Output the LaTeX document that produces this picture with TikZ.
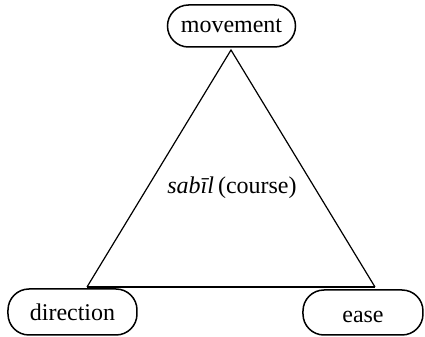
\documentclass[tikz,border=0pt]{standalone}
\usepackage{fontspec}
\setmainfont{Liberation Serif}
\begin{document}
\begin{tikzpicture}[x=0.5pt,y=-0.5pt,
  pill/.style={draw, line width=0.75pt, rounded corners=10.5pt, inner sep=0pt, font=\fontsize{12}{14}\selectfont},
  edge/.style={line width=0.6pt}]
\useasboundingbox (0,0) rectangle (425,337);
\node[pill, minimum width=64pt, minimum height=21pt] (movement) at (231.5,26) {movement};
\node[pill, minimum width=64.5pt, minimum height=23pt] (direction) at (72.5,312) {direction};
\node[pill, minimum width=60pt, minimum height=22.5pt, text height=10.5pt, text depth=0pt] (ease) at (363,312.5) {ease};
\coordinate (apex) at (231,50);
\coordinate (bl) at (87,287);
\coordinate (br) at (375,287);
\draw[edge] (bl) -- (apex) -- (br);
\draw[line width=1pt] (bl) -- (br);
\node[font=\fontsize{12}{14}\selectfont] (label) at (232,188) {\textit{sabīl}\,(course)};
\end{tikzpicture}
\end{document}
